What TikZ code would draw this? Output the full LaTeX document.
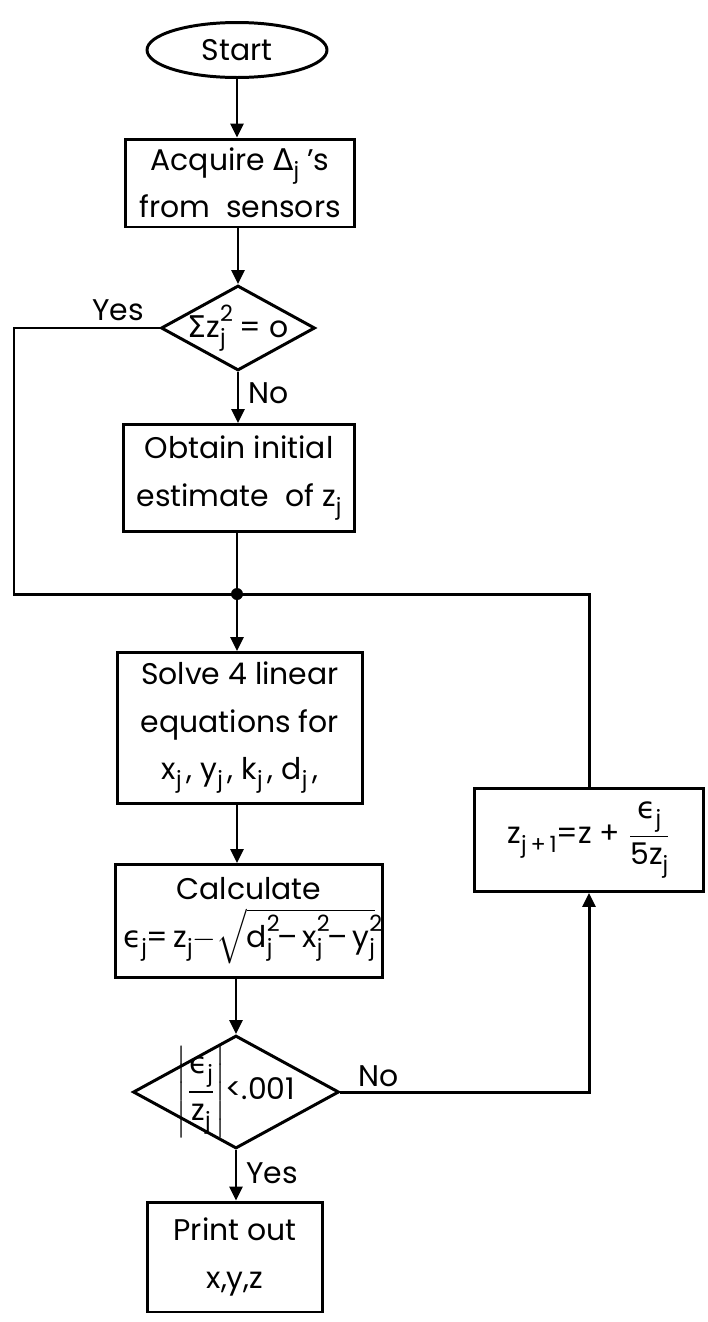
\documentclass[tikz,border=0pt]{standalone}
\usepackage{amsmath}
\usepackage{fontspec}
\setmainfont{Poppins}
\newfontfamily\grk{DejaVu Sans}
\usetikzlibrary{shapes.geometric,arrows.meta}
\newcommand{\lo}[1]{\raisebox{-0.5ex}{\scalebox{0.75}{#1}}}
\newcommand{\hi}[1]{\raisebox{0.95ex}{\scalebox{0.75}{#1}}}
\newcommand{\lohi}[2]{\makebox[0pt][l]{\hi{#2}}\lo{#1}}

\begin{document}
\begin{tikzpicture}[x=0.02cm, y=-0.02cm,
    font=\fontsize{17}{27}\selectfont,
    box/.style={rectangle, draw, line width=1.7pt, align=center, inner sep=0pt},
    term/.style={ellipse, draw, line width=1.7pt, inner sep=0pt},
    dec/.style={diamond, draw, line width=1.7pt, inner sep=0pt},
    arr/.style={line width=1.7pt, -{Triangle[length=0.28cm, width=0.26cm]}},
    ln/.style={line width=1.7pt}
]
    \useasboundingbox (0,0) rectangle (707,1322);

    % main column
    \node[term, minimum width=3.6cm, minimum height=1.1cm] (start) at (237,50) {Start};
    \node[box, minimum width=4.6cm, minimum height=1.76cm] (acquire) at (240,183)
        {Acquire {\grk Δ}\lo{j}\ 's\\from\ \ sensors};
    \node[dec, minimum width=3.08cm, minimum height=1.7cm] (dec1) at (238,328) {};
    \node (dec1txt) at (dec1) {{\grk Σ}z\lohi{j}{2}\hspace{0.3em}\,= o};
    \node[box, minimum width=4.64cm, minimum height=2.14cm] (obtain) at (239,478)
        {Obtain initial\\estimate\ \ of z\lo{j}};
    \node[box, minimum width=4.9cm, minimum height=3.02cm] (solve) at (240,728)
        {Solve 4 linear\\equations for\\x\lo{j}\,, y\lo{j}\,, k\lo{j}\,, d\lo{j}\,,};
    \node[box, minimum width=5.36cm, minimum height=2.26cm] (calc) at (249,921)
        {Calculate\\{\grk ϵ}\lo{j}=\,z\lo{j}$-\sqrt{\text{d\lohi{j}{2}\,–\,x\lohi{j}{2}\,–\,y\lohi{j}{2}}}$};
    \node[dec, minimum width=4.12cm, minimum height=2.26cm] (dec2) at (236,1092) {};
    \node (dec2txt) at (dec2) {$\left|\dfrac{\text{{\grk ϵ}\lo{j}}}{\text{z\lo{j}}}\right|$<.001};
    \node[box, minimum width=3.52cm, minimum height=2.2cm] (print) at (235,1257)
        {Print out\\x,y,z};

    % update box
    \node[box, minimum width=4.6cm, minimum height=2.06cm] (update) at (589,840)
        {z\lo{j\,+\,1}=z + $\dfrac{\text{{\grk ϵ}\lo{j}}}{\text{5z\lo{j}}}$};

    % junction
    \coordinate (jn) at (237,594);
    \coordinate (lc) at (14,594);
    \fill (jn) circle (0.12cm);

    % arrows
    \draw[arr] (start.south) -- (start.south |- acquire.north);
    \draw[arr] (acquire.south -| dec1.north) -- (dec1.north);
    \draw[arr] (dec1.south) -- (dec1.south |- obtain.north);
    \draw[ln] (obtain.south -| jn) -- (jn);
    \draw[ln] (dec1.west) -| (lc) -- (jn);
    \draw[ln] (update.north) |- (jn);
    \draw[arr] (jn) -- (jn |- solve.north);
    \draw[arr] (solve.south -| jn) -- (jn |- calc.north);
    \draw[arr] (calc.south -| dec2.north) -- (dec2.north);
    \draw[arr] (dec2.south) -- (dec2.south |- print.north);
    \draw[arr] (dec2.east) -| (update.south);

    % labels
    \node (yes1) at (118,310) {Yes};
    \node[anchor=west] (no1) at (242,393) {No};
    \node[anchor=west] (yes2) at (240,1173) {Yes};
    \node[anchor=west] (no2) at (352,1076) {No};

\end{tikzpicture}
\end{document}
